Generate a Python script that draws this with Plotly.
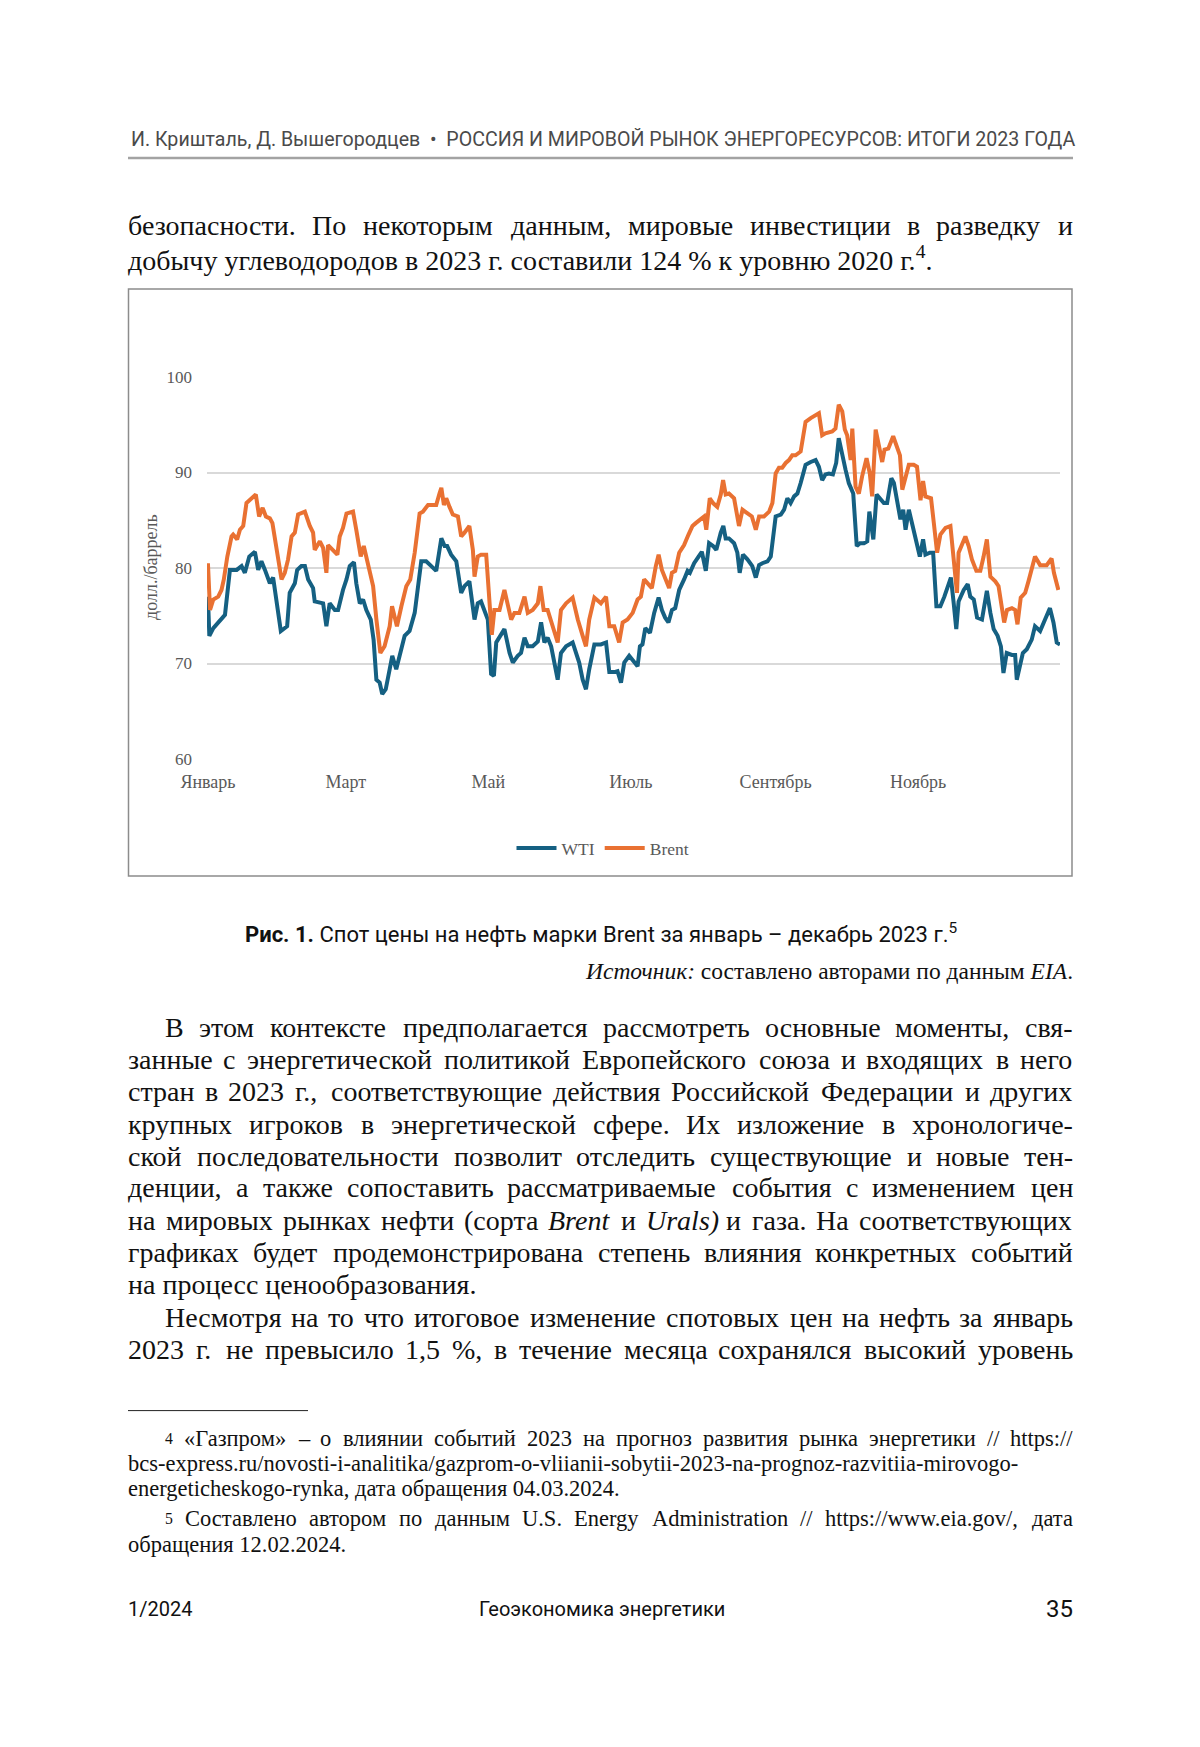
import re
import pandas as pd
import plotly.graph_objects as go

# ---------------- DATA ----------------
# day of year 2023 (0 = 1 Jan) and spot price, USD/barrel
wti_day = [0.0, 0.6, 2.3, 4.4, 7.3, 9.4, 12.3, 14.4, 15.8, 17.7, 19.4, 20.1, 21.5, 22.9, 24.4,
           26.5, 27.9, 29.6, 31.2, 33.9, 35.0, 37.2, 38.2, 40.0, 41.5, 42.9, 45.0, 45.7, 49.3,
           50.7, 52.1, 54.3, 55.7, 57.8, 59.3, 60.7, 62.5, 63.5, 65.0, 66.4, 67.8, 69.7, 70.9,
           72.1, 73.5, 74.6, 76.1, 77.8, 78.9, 80.6, 82.1, 84.2, 86.3, 88.5, 91.3, 93.4, 95.6,
           97.7, 99.9, 101.3, 102.4, 104.1, 106.3, 108.4, 109.8, 111.9, 114.1, 115.5, 116.9,
           118.3, 119.8, 121.2, 122.4, 123.4, 125.2, 126.9, 129.1, 130.5, 132.6, 134.0, 135.5,
           136.9, 139.0, 141.2, 142.6, 144.0, 145.4, 146.9, 149.7, 151.1, 153.3, 156.1, 158.9,
           160.4, 161.8, 163.2, 165.4, 168.2, 170.4, 171.8, 173.9, 175.3, 176.8, 178.2, 180.3,
           183.9, 184.9, 186.0, 187.2, 189.2, 191.0, 192.9, 194.3, 195.7, 197.1, 198.6, 200.0,
           201.7, 203.8, 205.3, 206.3, 208.1, 210.0, 211.4, 213.1, 214.5, 216.2, 217.6, 219.5,
           220.6, 221.6, 223.0, 225.2, 226.6, 227.6, 229.0, 230.9, 233.0, 234.5, 235.9, 237.3,
           239.5, 240.9, 243.0, 245.2, 246.6, 248.0, 249.4, 250.9, 252.3, 253.7, 255.8, 258.0,
           260.1, 261.5, 262.9, 264.3, 265.8, 267.5, 268.9, 270.0, 271.5, 272.9, 274.3, 276.2,
           277.7, 279.1, 280.8, 282.2, 283.1, 284.8, 286.2, 287.6, 289.3, 290.7, 292.5, 293.6,
           295.0, 296.4, 297.6, 298.6, 300.0, 301.9, 303.3, 304.7, 306.1, 307.1, 309.0, 310.4,
           311.8, 313.5, 315.2, 316.6, 318.0, 319.2, 320.3, 321.3, 323.5, 325.2, 326.3, 327.8,
           329.2, 331.3, 332.7, 333.4, 334.9, 336.3, 338.0, 339.4, 340.5, 341.9, 344.1, 345.5,
           346.2, 347.7, 348.8, 350.5, 352.6, 354.0, 356.2, 358.3, 360.4, 361.9, 363.3, 364.7]
wti_price = [77.0, 72.9, 73.7, 74.3, 75.1, 79.8, 79.8, 80.2, 79.5, 81.2, 81.6, 81.7, 79.8, 80.7, 79.8,
             78.4, 79.0, 76.0, 73.4, 73.9, 77.4, 78.4, 79.8, 80.2, 80.2, 78.8, 77.9, 76.5, 76.3,
             73.9, 76.3, 75.6, 75.6, 77.7, 78.8, 80.2, 80.6, 78.4, 76.3, 76.7, 75.6, 74.6, 72.5,
             68.3, 68.0, 66.8, 67.3, 69.4, 70.8, 69.4, 70.8, 72.9, 73.4, 75.3, 80.7, 80.7, 80.2,
             79.7, 83.1, 82.3, 82.3, 81.4, 80.7, 77.4, 78.1, 78.6, 74.6, 76.3, 76.5,
             75.6, 74.6, 68.9, 68.7, 72.2, 73.0, 73.6, 71.1, 70.1, 70.8, 71.1, 72.7,
             71.8, 71.8, 72.3, 74.3, 72.2, 72.7, 71.8, 68.3, 71.1, 71.8, 72.2, 70.1,
             68.3, 67.3, 69.4, 72.0, 72.0, 72.2, 69.1, 69.1, 69.2, 68.0, 70.1, 70.8,
             69.7, 71.8, 72.0, 73.7, 73.2, 75.3, 76.9, 75.6, 74.8, 74.3, 75.6, 75.8,
             77.7, 78.8, 79.7, 79.5, 80.5, 81.2, 81.7, 79.7, 82.6, 82.3, 81.9, 83.7,
             84.4, 83.1, 83.1, 82.6, 81.6, 79.5, 81.4, 80.9, 80.2, 79.0, 80.3, 80.5,
             80.7, 81.2, 85.4, 85.6, 86.1, 87.3, 86.8, 87.5, 87.8, 88.9, 90.8, 91.1,
             91.3, 90.6, 89.2, 89.8, 89.9, 89.8, 91.0, 93.6, 91.7, 90.3, 88.9, 87.8,
             82.3, 82.6, 82.6, 82.8, 85.9, 83.0, 87.7, 87.3, 86.8, 86.8, 89.4, 88.9,
             87.1, 85.1, 86.1, 84.0, 86.1, 84.0, 82.3, 81.2, 83.0, 81.4, 81.6, 81.6,
             76.0, 76.0, 77.0, 78.1, 79.0, 76.3, 73.6, 76.5, 77.7, 78.3, 77.0, 76.7,
             74.8, 74.6, 76.7, 77.6, 75.3, 73.6, 72.9, 71.8, 69.0, 71.1, 70.9, 70.9,
             68.3, 69.7, 71.1, 71.5, 72.5, 73.9, 73.4, 74.6, 75.8, 74.3, 72.2, 72.0]

brent_day = [0.0, 0.9, 2.3, 4.4, 5.8, 6.8, 8.3, 10.1, 10.8, 12.5, 13.7, 15.1, 16.5, 18.7, 20.5,
             21.9, 23.4, 24.8, 26.5, 27.6, 29.1, 30.5, 31.5, 32.9, 34.3, 35.8, 37.2, 38.6, 41.5,
             43.6, 45.0, 45.7, 47.9, 49.3, 50.7, 51.4, 53.6, 55.4, 56.4, 57.8, 59.3, 62.1, 63.5,
             65.4, 66.7, 68.9, 70.7, 72.1, 73.8, 75.6, 77.8, 78.8, 80.9, 82.8, 84.9, 86.6, 88.5,
             90.6, 92.0, 94.2, 97.7, 99.1, 99.9, 101.0, 102.0, 103.4, 104.8, 107.0, 108.4, 109.8,
             111.9, 113.4, 114.1, 115.5, 116.9, 119.1, 120.5, 121.5, 122.6, 124.8, 126.9, 128.3,
             129.8, 131.2, 133.3, 135.5, 136.9, 139.0, 141.2, 142.3, 143.7, 145.4, 147.6, 149.7,
             151.1, 153.3, 156.1, 158.3, 160.4, 161.8, 163.2, 165.4, 168.2, 170.4, 171.8, 173.9,
             176.0, 177.5, 179.6, 181.8, 183.9, 185.3, 186.7, 188.2, 190.0, 191.7, 192.9, 194.3,
             196.0, 197.4, 198.6, 200.0, 201.7, 203.8, 205.7, 207.4, 208.8, 210.9, 212.4, 213.3,
             214.8, 216.2, 218.0, 219.5, 220.5, 221.6, 223.0, 225.2, 226.6, 227.3, 228.8, 230.9,
             232.8, 234.5, 235.9, 238.0, 240.2, 241.6, 243.0, 244.4, 245.8, 247.3, 248.7, 250.1,
             251.5, 253.7, 254.4, 255.8, 258.0, 261.5, 262.9, 264.3, 267.2, 268.6, 270.0, 271.5,
             272.6, 273.6, 275.1, 275.8, 277.2, 278.6, 280.0, 281.9, 283.3, 284.3, 285.8, 287.2,
             288.6, 289.6, 291.2, 293.3, 295.0, 296.2, 297.2, 298.6, 300.0, 302.1, 303.5, 305.0,
             306.1, 307.1, 309.5, 310.7, 312.1, 313.5, 315.7, 317.8, 319.2, 320.6, 321.3, 322.8,
             324.2, 325.6, 327.0, 328.9, 330.6, 332.0, 333.4, 334.9, 337.0, 338.4, 339.8, 340.8,
             342.0, 344.1, 345.5, 346.5, 347.9, 349.8, 351.2, 352.6, 354.0, 356.2, 359.0, 361.1,
             362.1, 364.0]
brent_price = [80.5, 75.6, 76.7, 77.0, 77.7, 78.8, 81.2, 83.3, 83.5, 83.0, 84.0, 84.4, 86.8, 87.3, 87.7,
               85.4, 86.3, 85.4, 85.2, 84.7, 82.3, 80.2, 78.8, 79.5, 80.9, 83.3, 83.7, 85.6, 85.9,
               84.4, 83.7, 81.9, 82.8, 82.1, 79.5, 82.4, 81.9, 81.4, 83.3, 84.2, 85.7, 85.9, 84.0,
               81.2, 82.3, 80.2, 78.1, 74.6, 71.1, 71.8, 73.9, 76.0, 73.9, 76.0, 78.1, 78.8, 81.6,
               85.7, 85.9, 86.6, 86.6, 87.8, 88.4, 86.6, 87.3, 86.4, 85.6, 85.4, 83.3, 83.7,
               84.4, 81.9, 79.1, 81.2, 81.4, 81.4, 77.0, 73.0, 75.6, 75.6, 77.7, 76.0,
               74.6, 75.3, 75.3, 77.0, 75.3, 75.6, 76.3, 78.1, 75.6, 75.6, 73.9, 72.2,
               75.6, 76.3, 76.9, 74.6, 72.9, 71.8, 74.6, 76.9, 76.3, 77.0, 73.9, 73.9,
               72.2, 74.3, 74.6, 75.3, 76.7, 77.0, 78.8, 78.4, 77.9, 80.2, 81.4, 79.8,
               78.8, 77.9, 79.5, 79.7, 81.6, 82.4, 83.5, 84.4, 84.7, 85.1, 85.4, 84.0,
               87.3, 86.8, 86.4, 87.7, 89.2, 87.7, 87.8, 87.3, 85.7, 84.4, 86.1, 85.7,
               85.4, 84.0, 85.4, 85.4, 85.9, 86.8, 89.9, 90.5, 90.5, 91.0, 91.3, 91.8,
               91.8, 92.2, 93.1, 95.3, 95.7, 96.2, 93.9, 94.1, 94.3, 94.6, 97.1, 96.4,
               94.5, 93.9, 91.3, 94.6, 88.5, 87.8, 89.6, 91.5, 89.9, 87.5, 94.5, 92.7,
               91.1, 92.4, 92.5, 93.8, 92.7, 91.8, 88.2, 89.6, 90.8, 90.8, 90.6, 87.1,
               89.1, 87.5, 87.3, 84.7, 81.6, 83.5, 84.2, 84.4, 80.9, 77.4, 81.6, 82.4,
               83.3, 82.3, 80.9, 79.7, 79.7, 81.2, 83.0, 79.1, 78.6, 78.1, 76.0, 74.3,
               75.6, 75.8, 75.6, 74.1, 76.9, 77.4, 78.6, 79.8, 81.2, 80.3, 80.3, 81.0,
               79.5, 77.7]

month_ticks = ["2023-01-01", "2023-03-01", "2023-05-01", "2023-07-01", "2023-09-01", "2023-11-01"]
month_labels = ["Январь", "Март", "Май", "Июль", "Сентябрь", "Ноябрь"]
series_names = ["WTI", "Brent"]
series_colors = ["#156082", "#E97132"]

# ---------------- TEXT OF THE PAGE ----------------
header_text = "И. Кришталь, Д. Вышегородцев  •  РОССИЯ И МИРОВОЙ РЫНОК ЭНЕРГОРЕСУРСОВ: ИТОГИ 2023 ГОДА"
para1 = [
    ("безопасности. По некоторым данным, мировые инвестиции в разведку и", True, 128),
    ("добычу углеводородов в 2023 г. составили 124 % к уровню 2020 г.<sup>4</sup>.", False, 128),
]
para2 = [
    ("В этом контексте предполагается рассмотреть основные моменты, свя-", True, 165),
    ("занные с энергетической политикой Европейского союза и входящих в него", True, 128),
    ("стран в 2023 г., соответствующие действия Российской Федерации и других", True, 128),
    ("крупных игроков в энергетической сфере. Их изложение в хронологиче-", True, 128),
    ("ской последовательности позволит отследить существующие и новые тен-", True, 128),
    ("денции, а также сопоставить рассматриваемые события с изменением цен", True, 128),
    ("на мировых рынках нефти (сорта <i>Brent</i> и <i>Urals)</i> и газа. На соответствующих", True, 128),
    ("графиках будет продемонстрирована степень влияния конкретных событий", True, 128),
    ("на процесс ценообразования.", False, 128),
    ("Несмотря на то что итоговое изменение спотовых цен на нефть за январь", True, 165),
    ("2023 г. не превысило 1,5 %, в течение месяца сохранялся высокий уровень", True, 128),
]
footnotes = [
    ("<sup>4</sup>  «Газпром» – о влиянии событий 2023 на прогноз развития рынка энергетики // https://", True, 165),
    ("bcs-express.ru/novosti-i-analitika/gazprom-o-vliianii-sobytii-2023-na-prognoz-razvitiia-mirovogo-", False, 128),
    ("energeticheskogo-rynka, дата обращения 04.03.2024.", False, 128),
    ("<sup>5</sup>  Составлено автором по данным U.S. Energy Administration // https://www.eia.gov/, дата", True, 165),
    ("обращения 12.02.2024.", False, 128),
]
caption_text = "<b>Рис. 1.</b> Спот цены на нефть марки Brent за январь – декабрь 2023 г.<sup>5</sup>"
source_text = "<i>Источник:</i> составлено авторами по данным <i>EIA</i>."

# ---------------- HELPERS ----------------
PAGE_W, PAGE_H = 1200, 1747


def px(x):
    return x / PAGE_W


def py(y):
    return 1 - y / PAGE_H


CW = {}
for chars, widths in [
    ("abcdefghijklmnopqrstuvwxyz",
     [444, 500, 444, 500, 444, 333, 500, 500, 278, 278, 500, 278, 778, 500, 500, 500, 500, 333, 389, 278,
      500, 500, 722, 500, 500, 444]),
    ("ABCDEFGHIJKLMNOPQRSTUVWXYZ",
     [722, 667, 667, 722, 611, 556, 722, 722, 333, 389, 722, 611, 889, 722, 722, 556, 722, 667, 556, 611,
      722, 722, 944, 722, 722, 611]),
    ("абвгдежзийклмнопрстуфхцчшщъыьэюя",
     [444, 509, 472, 410, 509, 444, 691, 395, 535, 535, 486, 499, 633, 535, 500, 535, 500, 444, 437, 500,
      648, 500, 535, 503, 770, 770, 517, 672, 456, 429, 747, 460]),
    ("АБВГДЕЖЗИЙКЛМНОПРСТУФХЦЧШЩЪЫЬЭЮЯ",
     [722, 574, 667, 578, 682, 611, 896, 501, 722, 722, 667, 678, 889, 722, 722, 722, 556, 667, 611, 707,
      808, 722, 719, 669, 1029, 1029, 726, 892, 574, 661, 1034, 667]),
    (" .,-:/()%«»–", [250, 250, 250, 333, 278, 278, 333, 333, 833, 500, 500, 500]),
]:
    for c, w in zip(chars, widths):
        CW[c] = w


def word_width(word, size):
    total = 0.0
    for m in re.finditer(r"<sup>(.*?)</sup>|<[^>]+>|([^<]+)", word):
        if m.group(1) is not None:
            total += sum(CW.get(c, 500) for c in m.group(1)) * 0.7
        elif m.group(2) is not None:
            total += sum(CW.get(c, 500) for c in m.group(2))
    return total / 1000 * size


annotations = []


def add_text(text, x, y, size, family, color="#111111", xanchor="left"):
    annotations.append(dict(text=text, x=px(x), y=py(y), xref="paper", yref="paper",
                            xanchor=xanchor, yanchor="middle", showarrow=False,
                            font=dict(family=family, size=size, color=color)))


def add_line(text, justify, x_left, y, size, right=1073, family="Liberation Serif"):
    if not justify:
        add_text(text, x_left - 2, y, size, family)
        return
    words = [w for w in text.split(" ") if w != ""]
    widths = [word_width(w, size) for w in words]
    gap = (right - x_left - sum(widths)) / max(len(words) - 1, 1)
    x = x_left
    for w, wd in zip(words, widths):
        add_text(w, x - 2, y, size, family)
        x += wd + gap


SERIF = "Liberation Serif"
SANS = "Roboto"

# header
add_text(header_text, 129, 139, 19.6, SANS, color="#4a4a4a")
# paragraph 1
for (t, j, xl), yy in zip(para1, [226, 258.5]):
    add_line(t, j, xl, yy, 28)
# paragraph 2
for (t, j, xl), yy in zip(para2, [1027.3, 1059.6, 1091.9, 1124.2, 1156.6, 1187.8, 1220.1,
                                  1252.3, 1284.7, 1317.0, 1349.3]):
    add_line(t, j, xl, yy, 28)
# footnotes
for (t, j, xl), yy in zip(footnotes, [1438.4, 1463.0, 1488.6, 1518.7, 1544.3]):
    add_line(t, j, xl, yy, 22.5)
# caption and source
add_text(caption_text, 600.5, 932.6, 22, SANS, color="#111111", xanchor="center")
add_text(source_text, 1075, 970.5, 23.5, SERIF, color="#111111", xanchor="right")
# footer
add_text("1/2024", 126, 1609, 20, SANS)
add_text("Геоэкономика энергетики", 601.7, 1609, 20, SANS, xanchor="center")
add_text("35", 1075, 1609, 24, SANS, xanchor="right")
# y-axis title of the chart
annotations.append(dict(text="долл./баррель", x=px(151), y=py(567), xref="paper", yref="paper",
                        xanchor="center", yanchor="middle", textangle=-90, showarrow=False,
                        font=dict(family=SERIF, size=18, color="#595959")))

shapes = [
    dict(type="line", xref="paper", yref="paper", x0=px(128), x1=px(1073), y0=py(158), y1=py(158),
         line=dict(color="#a3a3a3", width=2.5)),
    dict(type="rect", xref="paper", yref="paper", x0=px(128.5), x1=px(1072), y0=py(289), y1=py(876),
         line=dict(color="#8c8c8c", width=1.5), fillcolor="rgba(0,0,0,0)"),
    dict(type="line", xref="paper", yref="paper", x0=px(128), x1=px(308), y0=py(1410.6), y1=py(1410.6),
         line=dict(color="#222222", width=1)),
]

# ---------------- FIGURE ----------------
base = pd.Timestamp("2023-01-01")


def to_dates(days):
    return base + pd.to_timedelta(days, unit="D")


fig = go.Figure()
for name, color, days, vals in [(series_names[0], series_colors[0], wti_day, wti_price),
                                (series_names[1], series_colors[1], brent_day, brent_price)]:
    fig.add_trace(go.Scatter(x=to_dates(days), y=vals, name=name, mode="lines",
                             line=dict(color=color, width=4)))

fig.update_layout(
    width=PAGE_W, height=PAGE_H,
    margin=dict(l=0, r=0, t=0, b=0, pad=0, autoexpand=False),
    paper_bgcolor="white", plot_bgcolor="white",
    font=dict(family=SERIF, size=17, color="#595959"),
    showlegend=True,
    legend=dict(orientation="h", x=px(603), xanchor="center", y=py(848), yanchor="middle",
                font=dict(family=SERIF, size=17.5, color="#595959"), bgcolor="rgba(0,0,0,0)",
                itemwidth=40, tracegroupgap=0),
    annotations=annotations,
    shapes=shapes,
)
fig.update_xaxes(
    domain=[px(207), px(1060)], automargin=False,
    range=[base - pd.Timedelta(days=0.4), base + pd.Timedelta(days=364.7)],
    tickvals=month_ticks, ticktext=month_labels,
    showgrid=False, zeroline=False, showline=False, ticks="",
    tickfont=dict(family=SERIF, size=18, color="#595959"),
    ticklabelstandoff=10,
)
fig.update_yaxes(
    domain=[py(759), py(377)], automargin=False,
    range=[60, 100], dtick=10, tick0=60,
    showgrid=True, gridcolor="#d9d9d9", gridwidth=1.5,
    zeroline=False, showline=False, ticks="",
    tickfont=dict(family=SERIF, size=17, color="#595959"),
    ticklabelstandoff=14,
)

fig.write_html("out.html", config={"displayModeBar": False},
               post_script="document.body.style.margin='0px';")
